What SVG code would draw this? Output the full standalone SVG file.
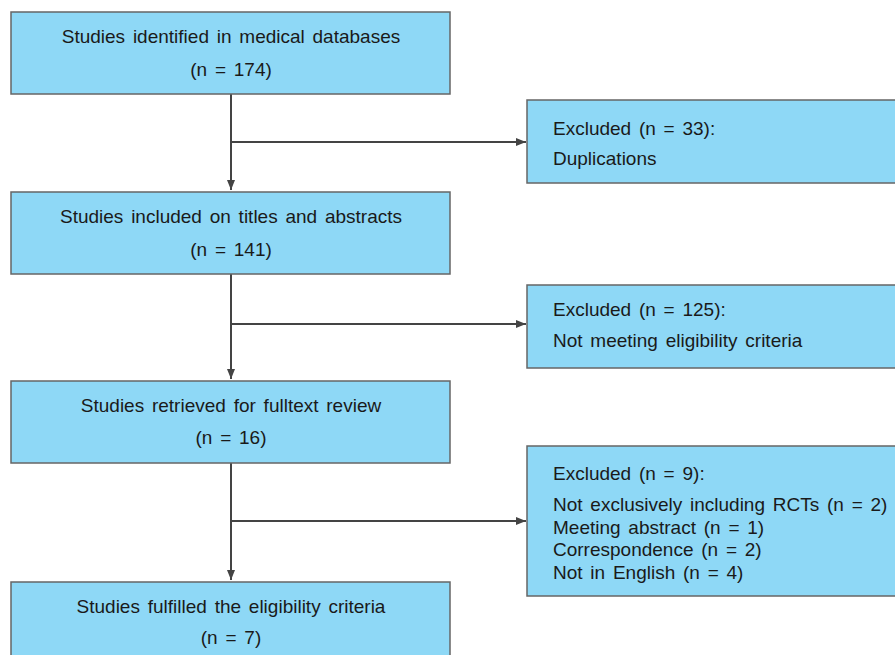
<svg xmlns="http://www.w3.org/2000/svg" width="895" height="655" viewBox="0 0 895 655">
<defs>
<style>
.box{fill:#8ed8f6;stroke:#666;stroke-width:1.5}
.t{font-family:"Liberation Sans",Arial,sans-serif;font-size:19px;word-spacing:2.5px;fill:#1a1a1a}
.c{text-anchor:middle}
.ln{stroke:#444;stroke-width:2;fill:none}
</style>
<marker id="ah" markerWidth="10" markerHeight="10" viewBox="0 0 10 10" refX="10" refY="5" orient="auto" markerUnits="userSpaceOnUse">
<path d="M0,1 L10,5 L0,9 Z" fill="#444"/>
</marker>
</defs>
<g id="connectors">
<line class="ln" x1="231" y1="94" x2="231" y2="190" marker-end="url(#ah)"/>
<line class="ln" x1="231" y1="142" x2="526" y2="142" marker-end="url(#ah)"/>
<line class="ln" x1="231" y1="274" x2="231" y2="379" marker-end="url(#ah)"/>
<line class="ln" x1="231" y1="324" x2="526" y2="324" marker-end="url(#ah)"/>
<line class="ln" x1="231" y1="463" x2="231" y2="580" marker-end="url(#ah)"/>
<line class="ln" x1="231" y1="521" x2="526" y2="521" marker-end="url(#ah)"/>
</g>
<g id="n1">
<rect class="box" x="11" y="12" width="439" height="82"/>
<text class="t c" x="231" y="43">Studies identified in medical databases</text>
<text class="t c" x="231" y="76">(n = 174)</text>
</g>
<g id="n2">
<rect class="box" x="11" y="192" width="439" height="82"/>
<text class="t c" x="231" y="223">Studies included on titles and abstracts</text>
<text class="t c" x="231" y="256">(n = 141)</text>
</g>
<g id="n3">
<rect class="box" x="11" y="381" width="439" height="82"/>
<text class="t c" x="231" y="412">Studies retrieved for fulltext review</text>
<text class="t c" x="231" y="444">(n = 16)</text>
</g>
<g id="n4">
<rect class="box" x="11" y="582" width="439" height="82"/>
<text class="t c" x="231" y="613">Studies fulfilled the eligibility criteria</text>
<text class="t c" x="231" y="644">(n = 7)</text>
</g>
<g id="e1">
<rect class="box" x="527" y="100" width="380" height="83"/>
<text class="t" x="553" y="135">Excluded  (n = 33):</text>
<text class="t" x="553" y="165">Duplications</text>
</g>
<g id="e2">
<rect class="box" x="527" y="285" width="380" height="83"/>
<text class="t" x="553" y="316">Excluded  (n = 125):</text>
<text class="t" x="553" y="347">Not meeting eligibility criteria</text>
</g>
<g id="e3">
<rect class="box" x="527" y="446" width="380" height="150"/>
<text class="t" x="553" y="480">Excluded  (n = 9):</text>
<text class="t" x="553" y="511">Not exclusively including RCTs (n = 2)</text>
<text class="t" x="553" y="534">Meeting abstract (n = 1)</text>
<text class="t" x="553" y="556">Correspondence (n = 2)</text>
<text class="t" x="553" y="579">Not in English (n = 4)</text>
</g>
</svg>
